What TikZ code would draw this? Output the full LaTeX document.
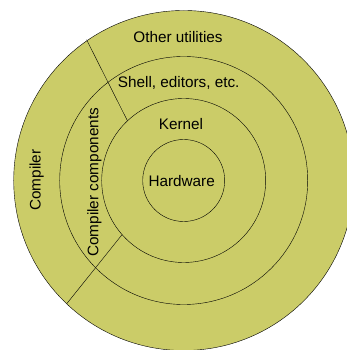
\documentclass[tikz,border=0pt]{standalone}
\usepackage{fontspec}
\setmainfont{Liberation Sans}
\usetikzlibrary{positioning}
\definecolor{layerfill}{RGB}{203,204,104}
\tikzset{ring/.style = {draw, thin, fill = layerfill},
         layer/.style = {font = \fontsize{15.3}{17}\selectfont, inner sep = 0pt}}

\begin{document}
\begin{tikzpicture}[x = 1pt, y = 1pt]
    \useasboundingbox (-183.7, -169.5) rectangle (163.3, 180.5);
    \clip (-183.7, -169.5) rectangle (163.3, 180.5);

    \foreach \r in {170, 124, 82, 41} {
      \draw [ring] (0, 0) circle (\r);
    }

    \coordinate (top outer) at (124.6:171);
    \coordinate (top kernel) at (133.3:82);
    \coordinate (low outer) at (226.5:170);
    \coordinate (low kernel) at (221.3:82);
    \draw (top outer) -- (top kernel);
    \draw (low outer) -- (low kernel);

    \node [layer] (utilities) at (-5.7, 143.8) {Other utilities};
    \node [layer] (shell) at (-5, 97.8) {Shell, editors, etc.};
    \node [layer] (kernel) at (-2.7, 56.5) {Kernel};
    \node [layer] (hardware) at (-2, -0.5) {Hardware};
    \node [layer, rotate = 90] (compiler) at (-147, 0.5) {Compiler};
    \node [layer, rotate = 90] (components) at (-89.4, -1.8) {Compiler components};
  \end{tikzpicture}
\end{document}
